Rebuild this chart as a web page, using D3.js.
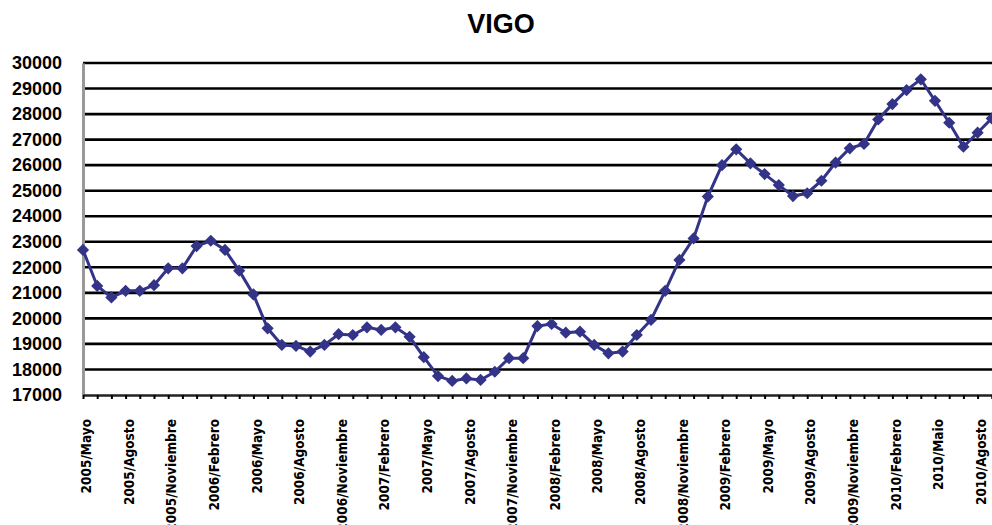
<!DOCTYPE html>
<meta charset="utf-8">
<script src="https://d3js.org/d3.v7.min.js"></script>
<style>
body { margin: 0; background: #fff; }
.title { font-family: "Liberation Sans", Arial, sans-serif; font-weight: bold; font-size: 27px; }
.yaxis text { font-family: "Liberation Sans", Arial, sans-serif; font-weight: bold; font-size: 18px; fill: #000; }
.xaxis text { font-family: "DejaVu Sans Condensed", "DejaVu Sans", sans-serif; font-weight: bold; font-size: 13.5px; fill: #000; }
</style>
<div id="chart"></div>
<script>
// monthly series, 2005/Mayo .. 2010/Septiembre
var categories = [
  "2005/Mayo","2005/Junio","2005/Julio","2005/Agosto","2005/Septiembre","2005/Octubre","2005/Noviembre","2005/Diciembre",
  "2006/Enero","2006/Febrero","2006/Marzo","2006/Abril","2006/Mayo","2006/Junio","2006/Julio","2006/Agosto","2006/Septiembre","2006/Octubre","2006/Noviembre","2006/Diciembre",
  "2007/Enero","2007/Febrero","2007/Marzo","2007/Abril","2007/Mayo","2007/Junio","2007/Julio","2007/Agosto","2007/Septiembre","2007/Octubre","2007/Noviembre","2007/Diciembre",
  "2008/Enero","2008/Febrero","2008/Marzo","2008/Abril","2008/Mayo","2008/Junio","2008/Julio","2008/Agosto","2008/Septiembre","2008/Octubre","2008/Noviembre","2008/Diciembre",
  "2009/Enero","2009/Febrero","2009/Marzo","2009/Abril","2009/Mayo","2009/Junio","2009/Julio","2009/Agosto","2009/Septiembre","2009/Octubre","2009/Noviembre","2009/Diciembre",
  "2010/Enero","2010/Febrero","2010/Marzo","2010/Abril","2010/Maio","2010/Junio","2010/Julio","2010/Agosto","2010/Septiembre"
];

var values = [
  22680, 21270, 20820, 21080, 21080, 21300, 21960, 21960,
  22830, 23040, 22680, 21870, 20940, 19610, 18960, 18920, 18700, 18960, 19380, 19350,
  19650, 19550, 19650, 19280, 18480, 17740, 17550, 17650, 17590, 17910, 18440, 18440,
  19700, 19780, 19440, 19480, 18960, 18630, 18700, 19350, 19940, 21080, 22290, 23130,
  24770, 26000, 26620, 26070, 25650, 25220, 24790, 24900, 25390, 26100, 26660, 26830,
  27790, 28390, 28940, 29360, 28520, 27660, 26720, 27270, 27830
];

var tickLabels = [
  "2005/Mayo","2005/Agosto","2005/Noviembre","2006/Febrero","2006/Mayo","2006/Agosto","2006/Noviembre",
  "2007/Febrero","2007/Mayo","2007/Agosto","2007/Noviembre","2008/Febrero","2008/Mayo","2008/Agosto",
  "2008/Noviembre","2009/Febrero","2009/Mayo","2009/Agosto","2009/Noviembre","2010/Febrero","2010/Maio","2010/Agosto"
];

var yTicks = [17000, 18000, 19000, 20000, 21000, 22000, 23000, 24000, 25000, 26000, 27000, 28000, 29000, 30000];

var width = 992, height = 525;
var plotLeft = 83, plotRight = 991.8, plotTop = 63, plotBottom = 395;

var svg = d3.select("#chart").append("svg")
    .attr("width", width)
    .attr("height", height);

var x = d3.scalePoint().domain(categories).range([plotLeft, plotRight]);
var y = d3.scaleLinear().domain([17000, 30000]).range([plotBottom, plotTop]);

// title
svg.append("text")
    .attr("class", "title")
    .attr("x", 501)
    .attr("y", 33)
    .attr("text-anchor", "middle")
    .text("VIGO");

// gridlines
svg.append("g")
  .selectAll("line")
  .data(yTicks.slice(1))
  .enter().append("line")
    .attr("x1", plotLeft)
    .attr("x2", width)
    .attr("y1", function(d) { return y(d); })
    .attr("y2", function(d) { return y(d); })
    .attr("stroke", "#000")
    .attr("stroke-width", 2.6);

// y axis
var yAxis = svg.append("g")
    .attr("class", "yaxis")
    .attr("transform", "translate(" + plotLeft + ",0)")
    .call(d3.axisLeft(y).tickValues(yTicks).tickSize(0).tickPadding(21).tickFormat(d3.format("d")));
yAxis.select(".domain").attr("stroke", "#999").attr("stroke-width", 3);

// x axis
var xAxis = svg.append("g")
    .attr("class", "xaxis")
    .attr("transform", "translate(0," + plotBottom + ")")
    .call(d3.axisBottom(x).tickSize(4).tickSizeOuter(0)
      .tickFormat(function(d) { return tickLabels.indexOf(d) >= 0 ? d : ""; }));
xAxis.select(".domain").attr("stroke", "#222").attr("stroke-width", 2.6);
xAxis.selectAll(".tick line").attr("stroke", "#000").attr("stroke-width", 2);
xAxis.selectAll(".tick text")
    .attr("transform", "rotate(-90)")
    .attr("text-anchor", "end")
    .attr("x", -24)
    .attr("y", 3)
    .attr("dy", "0.35em")
    .attr("dx", 0);

// line
var line = d3.line()
    .x(function(d, i) { return x(categories[i]); })
    .y(function(d) { return y(d); });

svg.append("path")
    .datum(values)
    .attr("fill", "none")
    .attr("stroke", "#333388")
    .attr("stroke-width", 3)
    .attr("d", line);

// diamond markers
svg.append("g")
  .selectAll("path")
  .data(values)
  .enter().append("path")
    .attr("transform", function(d, i) { return "translate(" + x(categories[i]) + "," + y(d) + ")"; })
    .attr("d", d3.symbol().type(d3.symbolDiamond2).size(95))
    .attr("fill", "#333388");
</script>
